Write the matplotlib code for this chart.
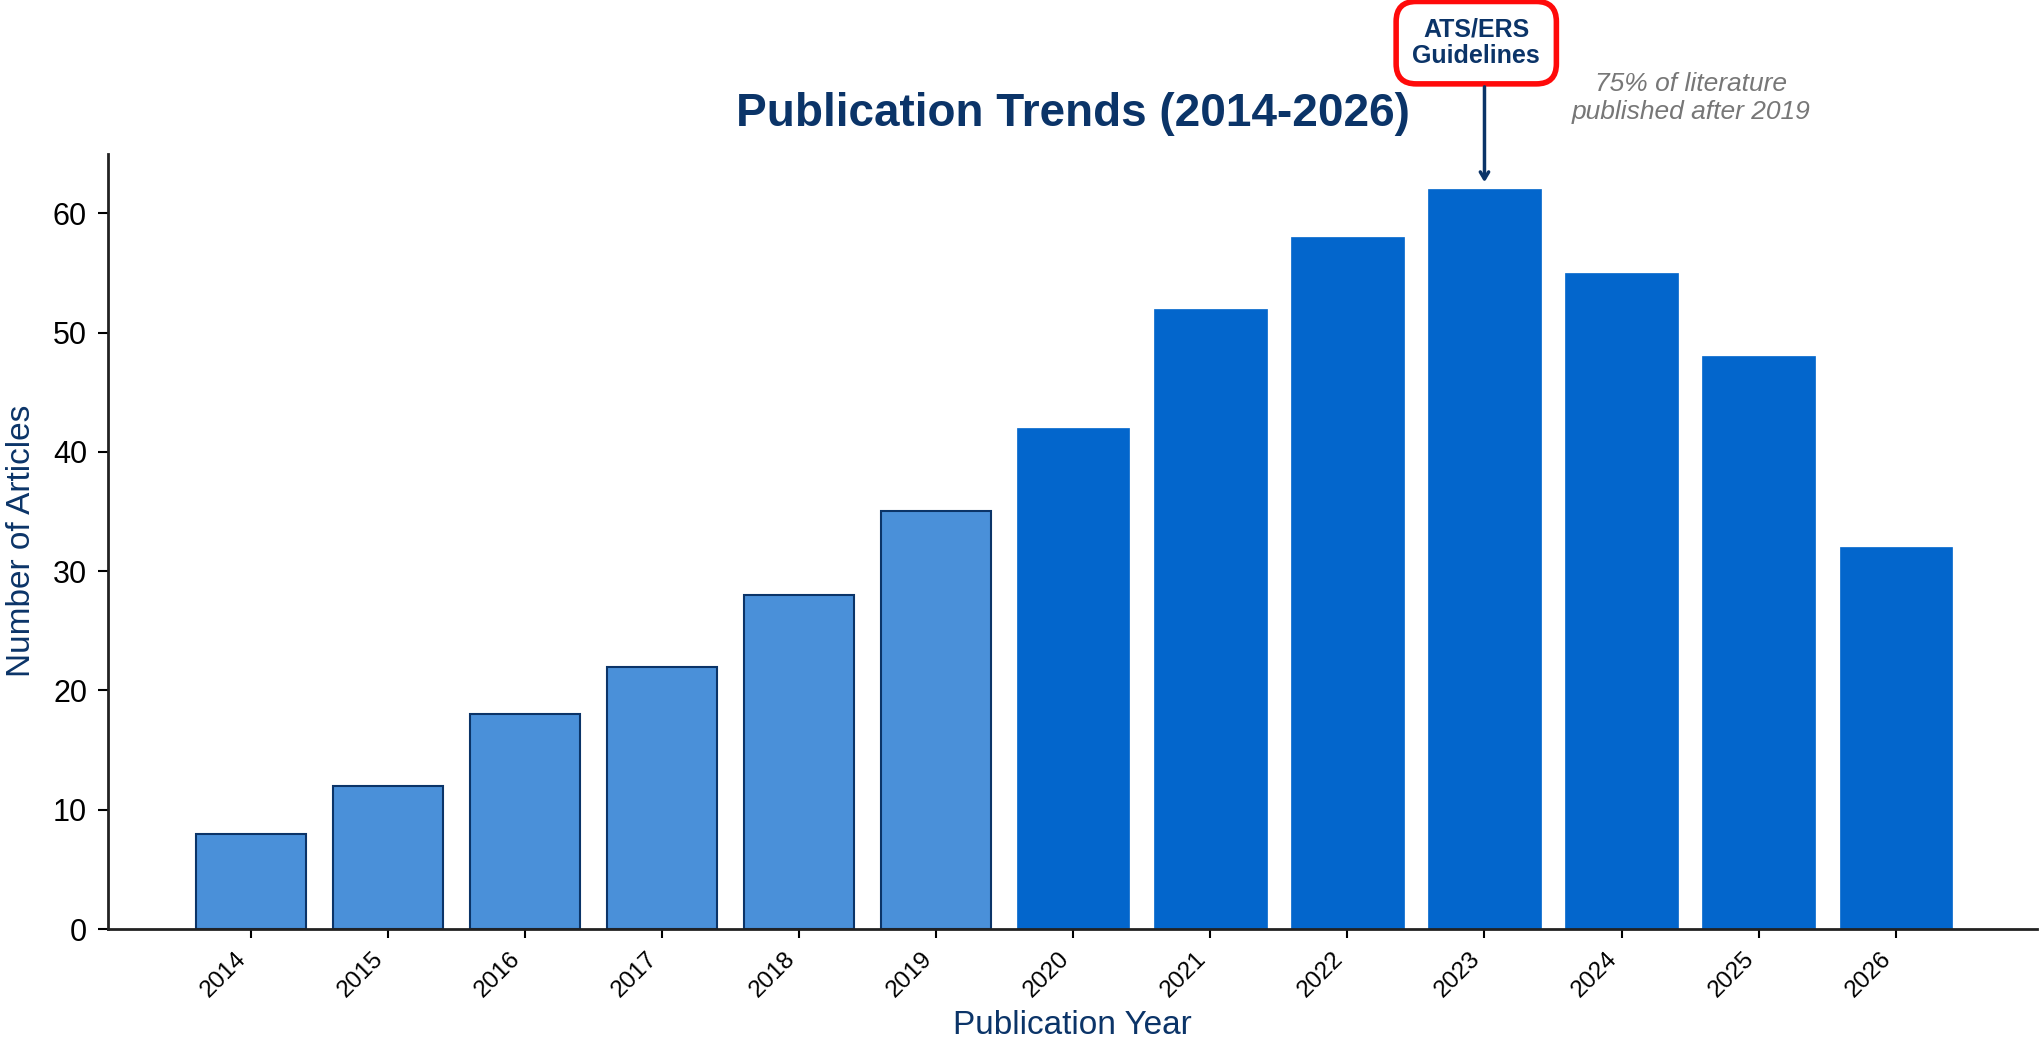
import matplotlib.pyplot as plt

plt.rcParams["font.family"] = ["Liberation Sans", "DejaVu Sans"]

# ============================================================
# Data
# ============================================================

YEARS = [2014, 2015, 2016, 2017, 2018, 2019, 2020,
         2021, 2022, 2023, 2024, 2025, 2026]
ARTICLES = [8, 12, 18, 22, 28, 35, 42, 52, 58, 62, 55, 48, 32]

SPLIT_YEAR = 2019
GUIDELINE_YEAR = 2023

NAVY = "#0b3468"
LIGHT_BLUE = "#4a90d9"
DARK_BLUE = "#0366cc"


def main():
    fig = plt.figure(figsize=(20.4, 10.45), dpi=100)
    ax = fig.add_axes([0.053, 0.111, 0.9455, 0.742])

    positions = list(range(len(YEARS)))

    for pos, year, count in zip(positions, YEARS, ARTICLES):
        if year <= SPLIT_YEAR:
            ax.bar(pos, count, width=0.8, color=LIGHT_BLUE,
                   edgecolor=NAVY, linewidth=1.5, zorder=2)
        else:
            ax.bar(pos, count, width=0.82, color=DARK_BLUE,
                   edgecolor=DARK_BLUE, linewidth=0.5, zorder=2)

    ax.set_xlim(-1.04, len(YEARS) - 1 + 1.03)
    ax.set_ylim(0, 65)
    ax.set_yticks([0, 10, 20, 30, 40, 50, 60])

    ax.set_xticks(positions)
    ax.set_xticklabels([str(y) for y in YEARS], rotation=45, ha="right",
                       fontsize=17.5)
    ax.tick_params(axis="y", labelsize=22, length=7.2, width=1.5, pad=8)
    ax.tick_params(axis="x", length=6.5, width=1.5, pad=7)

    for side in ["top", "right"]:
        ax.spines[side].set_visible(False)
    for side in ["left", "bottom"]:
        ax.spines[side].set_linewidth(2)
        ax.spines[side].set_color("#222222")

    ax.set_title("Publication Trends (2014-2026)", fontsize=33,
                 fontweight="bold", color=NAVY, pad=20)
    ax.set_xlabel("Publication Year", fontsize=24, color=NAVY)
    ax.set_ylabel("Number of Articles", fontsize=24, color=NAVY)
    ax.xaxis.set_label_coords(0.5, -0.105)
    ax.yaxis.set_label_coords(-0.037, 0.5)

    # Guideline callout above the peak year
    g = YEARS.index(GUIDELINE_YEAR)
    ax.text(g - 0.06, 74.3, "ATS/ERS\nGuidelines",
            ha="center", va="center", fontsize=18, fontweight="bold",
            color=NAVY, linespacing=1.1, clip_on=False,
            bbox=dict(boxstyle="round,pad=0.65,rounding_size=0.8",
                      facecolor="white", edgecolor="#ff0a0a", linewidth=4))
    ax.annotate(
        "", xy=(g, ARTICLES[g] + 0.6), xytext=(g, 70.6),
        annotation_clip=False,
        arrowprops=dict(arrowstyle="->,head_length=0.5,head_width=0.3",
                        color=NAVY, lw=2.5, shrinkA=0, shrinkB=0),
    )

    ax.text(0.8206, 1.072, "75% of literature\npublished after 2019",
            transform=ax.transAxes, ha="center", va="center",
            fontsize=19, style="italic", color="#777777")

    fig.savefig("out.png", dpi=100)
    plt.close(fig)


if __name__ == "__main__":
    main()
